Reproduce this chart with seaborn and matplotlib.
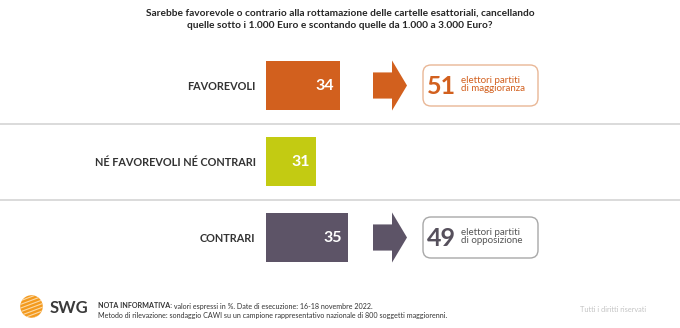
import matplotlib
matplotlib.use("Agg")
import matplotlib.pyplot as plt
import seaborn as sns
import pandas as pd
from matplotlib.patches import FancyBboxPatch, Polygon, Circle
from matplotlib.transforms import blended_transform_factory, Affine2D

# ---------------- data ----------------
categories = ["FAVOREVOLI", "NÉ FAVOREVOLI NÉ CONTRARI", "CONTRARI"]
values = [34, 31, 35]
bar_colors = ["#D2601E", "#C3CB12", "#5D5467"]
callout_values = [51, None, 49]
callout_labels = ["elettori partiti\ndi maggioranza", None, "elettori partiti\ndi opposizione"]
callout_num_colors = ["#D2601E", None, "#56505C"]
callout_txt_colors = ["#D2601E", None, "#555555"]
callout_edge_colors = ["#E9B796", None, "#A8A8A8"]
title = ("Sarebbe favorevole o contrario alla rottamazione delle cartelle esattoriali, cancellando\n"
         "quelle sotto i 1.000 Euro e scontando quelle da 1.000 a 3.000 Euro?")
note_bold = "NOTA INFORMATIVA:"
note_1 = " valori espressi in %. Date di esecuzione: 16-18 novembre 2022."
note_2 = "Metodo di rilevazione: sondaggio CAWI su un campione rappresentativo nazionale di 800 soggetti maggiorenni."
brand = "SWG"
rights = "Tutti i diritti riservati"

# ---------------- setup ----------------
W, H = 680, 328
sns.set_theme(style="white")
plt.rcParams['font.family'] = ['Lato', 'DejaVu Sans']

fig = plt.figure(figsize=(W / 100, H / 100), dpi=100)
fig.patch.set_facecolor("white")

ax_left, ax_right = 266, 680
ax_top, ax_bot = 47.5, 275.5
ax = fig.add_axes([ax_left / W, 1 - ax_bot / H, (ax_right - ax_left) / W, (ax_bot - ax_top) / H])

df = pd.DataFrame({"cat": categories, "val": values})
sns.barplot(data=df, y="cat", x="val", hue="cat", palette=bar_colors, orient="h",
            width=0.645, legend=False, ax=ax, saturation=1, linewidth=0)

ppu = 8.0       # pixels per percentage point
x0 = 24.75      # value at the left edge of the bars
ax.set_xlim(x0, x0 + (ax_right - ax_left) / ppu)
ax.set_ylim(2.5, -0.5)
for s in ax.spines.values():
    s.set_visible(False)
ax.set_xticks([])
ax.set_xlabel("")
ax.set_ylabel("")
ax.tick_params(axis="y", length=0, pad=7.5)
for lab in ax.get_yticklabels():
    lab.set_fontsize(7.8)
    lab.set_fontweight("bold")
    lab.set_color("#333333")

# value labels inside bars
for i, v in enumerate(values):
    ax.text(v - 0.7, i, str(v), ha="right", va="center", color="white",
            fontsize=11.5, fontweight="bold")

# separators across the full width
for y in [0.5, 1.5]:
    ax.axhline(y, xmin=-ax_left / (ax_right - ax_left), xmax=1, color="#DADADA",
               lw=1.4, clip_on=False, zorder=0)

# pixel (from top-left) transform
pix = Affine2D().scale(1 / W, -1 / H).translate(0, 1) + fig.transFigure
xpix = Affine2D().scale(1 / W, 1) + fig.transFigure
bt = blended_transform_factory(xpix, ax.transData)

fig.canvas.draw()
def row_center_px(i):
    return H - ax.transData.transform((x0, i))[1]

for i, cv in enumerate(callout_values):
    if cv is None:
        continue
    # arrow (shaft + head)
    sh, hh = 0.172, 0.33
    xs, xh, xt = 373, 392, 407
    arrow = Polygon([(xs, i - sh), (xh, i - sh), (xh, i - hh), (xt, i),
                     (xh, i + hh), (xh, i + sh), (xs, i + sh)],
                    closed=True, transform=bt, facecolor=bar_colors[i],
                    edgecolor="none", clip_on=False)
    ax.add_artist(arrow)
    yc = row_center_px(i)
    box = FancyBboxPatch((423, yc - 20.5), 115, 41,
                         boxstyle="round,pad=0,rounding_size=8",
                         transform=pix, facecolor="white",
                         edgecolor=callout_edge_colors[i], lw=1.0)
    fig.add_artist(box)
    fig.text(427 / W, 1 - (yc + 1) / H, str(cv), ha="left", va="center",
             fontsize=18, fontweight="bold", color=callout_num_colors[i])
    fig.text(461 / W, 1 - (yc - 1) / H, callout_labels[i], ha="left", va="center",
             fontsize=7.0, color=callout_txt_colors[i], linespacing=0.95)

# title
fig.text(0.5, 1 - 9 / H, title, ha="center", va="top", fontsize=7.3,
         fontweight="bold", color="#262626", linespacing=1.45)

# footer: logo
lax = fig.add_axes([20 / W, 1 - 318 / H, 23 / W, 23 / H])
lax.set_xlim(-1, 1)
lax.set_ylim(-1, 1)
lax.set_aspect("equal")
lax.axis("off")
circ = Circle((0, 0), 0.98, facecolor="#F39A1E", edgecolor="none")
lax.add_patch(circ)
for k in range(-5, 6):
    ln, = lax.plot([-1.2, 1.2], [k * 0.32 - 0.55, k * 0.32 + 0.35], color="#FCD9A6", lw=0.8)
    ln.set_clip_path(circ)
fig.text(50 / W, 1 - 308 / H, brand, ha="left", va="center", fontsize=12,
         fontweight="bold", color="#3A3A3A")

t1 = fig.text(98 / W, 1 - 306 / H, note_bold, ha="left", va="center",
              fontsize=5.1, fontweight="bold", color="#333333")
fig.canvas.draw()
bb = t1.get_window_extent(fig.canvas.get_renderer())
fig.text(bb.x1 / W, 1 - 306 / H, note_1, ha="left", va="center",
         fontsize=5.1, color="#333333")
fig.text(98 / W, 1 - 315.5 / H, note_2, ha="left", va="center",
         fontsize=5.1, color="#333333")
fig.text(580 / W, 1 - 310 / H, rights, ha="left", va="center",
         fontsize=5.3, color="#C4C4C4")

fig.savefig("out.png", dpi=100, facecolor="white")
